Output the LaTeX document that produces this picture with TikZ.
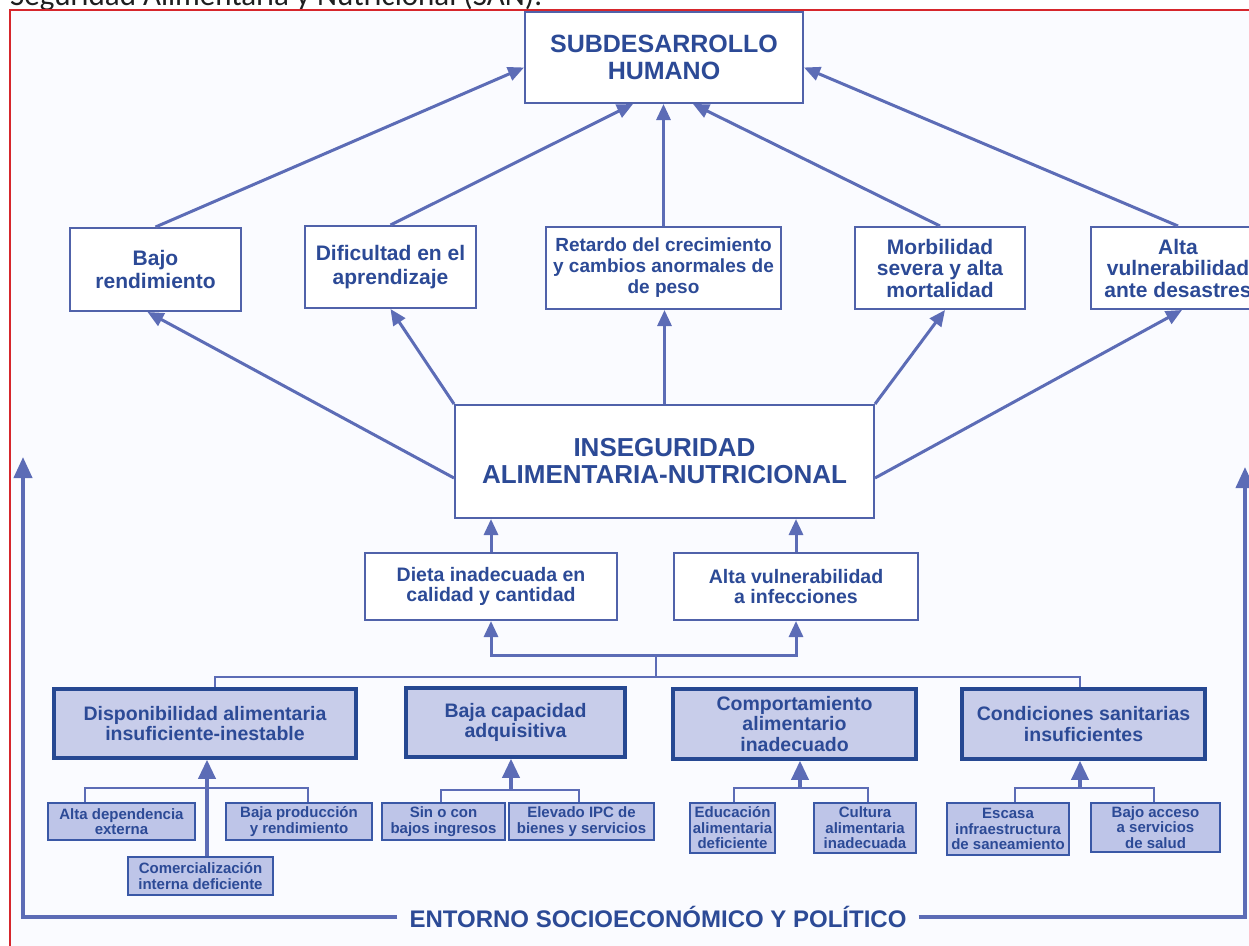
\documentclass[tikz,border=0pt]{standalone}
\usepackage{fontspec}
\setmainfont{Liberation Sans}
\newfontfamily\capfont{Carlito}
\usetikzlibrary{arrows.meta}
\definecolor{linec}{RGB}{92,108,182}
\definecolor{boxc}{RGB}{80,98,170}
\definecolor{txtc}{RGB}{44,74,150}
\definecolor{flav}{RGB}{200,205,234}
\definecolor{fdark}{RGB}{38,72,146}
\definecolor{slav}{RGB}{190,197,232}
\definecolor{sdark}{RGB}{58,88,166}
\definecolor{bgc}{RGB}{250,251,255}
\definecolor{redc}{RGB}{214,38,44}
\tikzset{
  wbox/.style={draw=boxc, line width=2pt, fill=white, inner sep=2pt, align=center, text=txtc},
  fbox/.style={draw=fdark, line width=3.5pt, fill=flav, inner sep=2pt, align=center, text=txtc,
    font=\fontsize{19.5}{20.5}\selectfont\bfseries},
  sbox/.style={draw=sdark, line width=2.2pt, fill=slav, inner sep=1pt, align=center, text=txtc,
    font=\fontsize{15}{15.5}\selectfont\bfseries},
  conn/.style={draw=linec, line width=3pt, -{Triangle[length=16pt,width=14pt]}},
  bigconn/.style={draw=linec, line width=3.5pt, -{Triangle[length=19pt,width=17pt]}},
  brk/.style={draw=linec, line width=2.6pt},
  envline/.style={draw=linec, line width=4pt, -{Triangle[length=21pt,width=18pt]}},
  rowtwo/.style={font=\fontsize{21}{23.5}\selectfont\bfseries},
  rowthree/.style={font=\fontsize{21}{21.5}\selectfont\bfseries}
}
\begin{document}
\begin{tikzpicture}[x=1pt,y=-1pt]
\useasboundingbox (0,0) rectangle (1249,945);
\clip (0,0) rectangle (1249,945);
\fill[white] (0,0) rectangle (1249,945);
% caption cut at top
\node[anchor=base west, inner sep=0, font=\capfont\fontsize{31}{31}\selectfont, text=black!88] (cap) at (10,5.5) {Seguridad Alimentaria y Nutricional (SAN).};
% frame
\fill[bgc] (10,10) rectangle (1260,950);
\draw[redc, line width=2pt] (10,950) -- (10,10) -- (1260,10);

% top
\node[wbox, minimum width=278pt, minimum height=91pt, font=\fontsize{25}{27}\selectfont\bfseries] (SUB) at (664,57.5) {SUBDESARROLLO\\HUMANO};

% row 2
\node[wbox, rowtwo, minimum width=171pt, minimum height=83pt] (B1) at (155.5,269.5) {Bajo\\rendimiento};
\node[wbox, rowtwo, minimum width=171pt, minimum height=82pt] (B2) at (390.5,267) {Dificultad en el\\aprendizaje};
\node[wbox, font=\fontsize{19}{21}\selectfont\bfseries, minimum width=235pt, minimum height=82pt] (B3) at (663.5,268) {Retardo del crecimiento\\y cambios anormales de\\de peso};
\node[wbox, rowthree, minimum width=170pt, minimum height=82pt] (B4) at (940,268) {Morbilidad\\severa y alta\\mortalidad};
\node[wbox, rowthree, minimum width=174pt, minimum height=82pt] (B5) at (1178,268) {Alta\\vulnerabilidad\\ante desastres};

% central
\node[wbox, minimum width=419pt, minimum height=113pt, font=\fontsize{26}{27}\selectfont\bfseries] (INS) at (664.5,461.5) {INSEGURIDAD\\ALIMENTARIA-NUTRICIONAL};

% row 3
\node[wbox, font=\fontsize{19.5}{20}\selectfont\bfseries, minimum width=252pt, minimum height=67pt] (D1) at (491,586.5) {Dieta inadecuada en\\calidad y cantidad};
\node[wbox, font=\fontsize{19.5}{20}\selectfont\bfseries, minimum width=244pt, minimum height=67pt] (D2) at (796,586.5) {Alta vulnerabilidad\\a infecciones};

% row 4
\node[fbox, minimum width=302pt, minimum height=69pt] (F1) at (205,723.5) {Disponibilidad alimentaria\\insuficiente-inestable};
\node[fbox, minimum width=219pt, minimum height=69pt] (F2) at (515.5,722.5) {Baja capacidad\\adquisitiva};
\node[fbox, minimum width=243pt, minimum height=70pt] (F3) at (794.5,724) {Comportamiento\\alimentario\\inadecuado};
\node[fbox, minimum width=243pt, minimum height=70pt] (F4) at (1083.5,724) {Condiciones sanitarias\\insuficientes};

% sub boxes
\node[sbox, minimum width=147pt, minimum height=37pt] (S11) at (121.5,821.5) {Alta dependencia\\externa};
\node[sbox, minimum width=146pt, minimum height=37pt] (S12) at (299,821.5) {Baja producción\\y rendimiento};
\node[sbox, minimum width=145pt, minimum height=38pt] (S13) at (200.5,876) {Comercialización\\interna deficiente};
\node[sbox, minimum width=123pt, minimum height=37pt] (S21) at (443.5,821.5) {Sin o con\\bajos ingresos};
\node[sbox, minimum width=145pt, minimum height=37pt] (S22) at (581.5,821.5) {Elevado IPC de\\bienes y servicios};
\node[sbox, minimum width=85pt, minimum height=50pt] (S31) at (732.5,828) {Educación\\alimentaria\\deficiente};
\node[sbox, minimum width=102pt, minimum height=50pt] (S32) at (865,828) {Cultura\\alimentaria\\inadecuada};
\node[sbox, minimum width=122pt, minimum height=52pt] (S41) at (1008,829) {Escasa\\infraestructura\\de saneamiento};
\node[sbox, minimum width=129pt, minimum height=49pt] (S42) at (1155.5,827.5) {Bajo acceso\\a servicios\\de salud};

% environment
\node[inner xsep=12pt, inner ysep=0pt, text=txtc, font=\fontsize{24}{24}\selectfont\bfseries] (ENV) at (658,917) {ENTORNO SOCIOECONÓMICO Y POLÍTICO};
\coordinate (envL) at (23,457);
\coordinate (envR) at (1245,467);
\draw[envline] (ENV.west) -| (envL);
\draw[envline] (ENV.east) -| (envR);

% row2 -> top
\draw[conn] (B1.north) -- ([yshift=-10pt]SUB.west);
\draw[conn] (B2.north) -- ([xshift=-31pt]SUB.south);
\draw[conn] (B3.north) -- (B3.north |- SUB.south);
\draw[conn] (B4.north) -- ([xshift=29pt]SUB.south);
\draw[conn] (B5.north) -- ([yshift=-10pt]SUB.east);

% central -> row2
\draw[conn] ([yshift=-16.5pt]INS.west) -- ([xshift=-8pt]B1.south);
\draw[conn] (INS.north west) -- (B2.south);
\draw[conn] (INS.north) -- (INS.north |- B3.south);
\draw[conn] (INS.north east) -- ([xshift=5pt]B4.south);
\draw[conn] ([yshift=-16.5pt]INS.east) -- ([xshift=4pt]B5.south);

% row3 -> central
\draw[conn] (D1.north) -- (D1.north |- INS.south);
\draw[conn] (D2.north) -- (D2.north |- INS.south);

% bracket under row 3
\coordinate (jA) at (656,655);
\coordinate (jB) at (656,677);
\draw[conn] (jA) -| (D1.south);
\draw[conn] (jA) -| (D2.south);
\draw[brk] (jA) -- (jB);
\draw[brk] ([xshift=10pt]F1.north) |- (jB) -| ([xshift=-3.5pt]F4.north);

% sub brackets
\coordinate (k1) at (207,788);
\draw[brk] ([xshift=-36.5pt]S11.north) |- (k1) -| ([xshift=9pt]S12.north);
\draw[bigconn] ([xshift=6.5pt]S13.north) -- ([xshift=6.5pt]S13.north |- F1.south);

\coordinate (k2) at (511,790);
\draw[brk] ([xshift=-2.5pt]S21.north) |- (k2) -| ([xshift=-2.5pt]S22.north);
\draw[bigconn] (k2) -- (k2 |- F2.south);

\coordinate (k3) at (800,788);
\draw[brk] ([xshift=1.5pt]S31.north) |- (k3) -| ([xshift=3pt]S32.north);
\draw[bigconn] (k3) -- (k3 |- F3.south);

\coordinate (k4) at (1080,788);
\draw[brk] ([xshift=7pt]S41.north) |- (k4) -| ([xshift=-1.5pt]S42.north);
\draw[bigconn] (k4) -- (k4 |- F4.south);
\end{tikzpicture}
\end{document}
